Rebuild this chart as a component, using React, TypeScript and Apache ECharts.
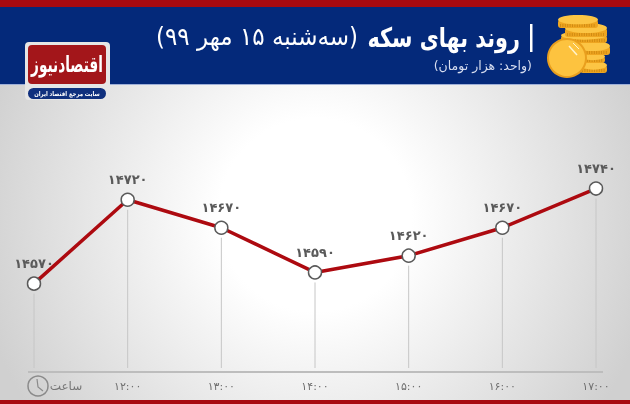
import * as echarts from "echarts";
import { useEffect, useRef } from "react";

const hours = ["", "۱۲:۰۰", "۱۳:۰۰", "۱۴:۰۰", "۱۵:۰۰", "۱۶:۰۰", "۱۷:۰۰"];
const prices = [14570, 14720, 14670, 14590, 14620, 14670, 14740];

const Y_MIN = 14412;
const Y_MAX = 14800;

const BLUE = "#04297a";
const RED = "#a80a10";
const LINE_RED = "#ad0a10";
const GREY = "#5a5a5a";
const FONT = "'DejaVu Sans', 'Noto Sans', sans-serif";
const RLM = "\u200F";

const toPersian = (n: number) =>
  String(n).replace(/\d/g, (d) => "۰۱۲۳۴۵۶۷۸۹"[Number(d)]);

// one coin of the stack: ribbed edge as a darker band under a lighter top
function coin(x: number, y: number, w: number, h: number) {
  const ry = h * 0.36;
  return [
    { type: "rect", shape: { x, y: y + ry, width: w, height: h - ry, r: 3 }, style: { fill: "#eea520" } },
    {
      type: "line",
      shape: { x1: x + 2, y1: y + h - 2.5, x2: x + w - 2, y2: y + h - 2.5 },
      style: { stroke: "#d08a12", lineWidth: 3, lineDash: [1, 1.4] },
    },
    { type: "ellipse", shape: { cx: x + w / 2, cy: y + ry, rx: w / 2, ry }, style: { fill: "#fcc544" } },
  ];
}

function headerGraphics() {
  return [
    {
      type: "rect",
      z: -10,
      shape: { x: 0, y: 84, width: 630, height: 320 },
      style: {
        fill: new echarts.graphic.RadialGradient(315, 215, 345, [
          { offset: 0, color: "#ffffff" },
          { offset: 0.28, color: "#ffffff" },
          { offset: 1, color: "#d0d0d0" },
        ], true),
      },
    },
    { type: "rect", z: -9, shape: { x: 0, y: 0, width: 630, height: 84 }, style: { fill: BLUE } },
    { type: "rect", z: -8, shape: { x: 0, y: 0, width: 630, height: 7 }, style: { fill: RED } },
    { type: "rect", z: -8, shape: { x: 0, y: 84, width: 630, height: 1 }, style: { fill: "#9fb0d8" } },
    { type: "rect", z: -8, shape: { x: 0, y: 400, width: 630, height: 4 }, style: { fill: RED } },

    // title
    { type: "rect", shape: { x: 530, y: 24, width: 2.5, height: 28 }, style: { fill: "#ffffff" } },
    {
      type: "text", x: 520, y: 38, scaleX: 0.77,
      style: { text: "روند بهای سکه", fill: "#fff", font: `bold 27px ${FONT}`, align: "right", verticalAlign: "middle" },
    },
    {
      type: "text", x: 358, y: 37, scaleX: 0.92,
      style: { text: RLM + "(سه‌شنبه ۱۵ مهر ۹۹)" + RLM, fill: "#fff", font: `25px ${FONT}`, align: "right", verticalAlign: "middle" },
    },
    {
      type: "text", x: 532, y: 65,
      style: { text: RLM + "(واحد: هزار تومان)" + RLM, fill: "#d8def0", font: `12.5px ${FONT}`, align: "right", verticalAlign: "middle" },
    },

    // coins
    ...coin(580, 61, 27, 12),
    ...coin(580, 53, 25, 10),
    ...coin(575, 41, 35, 14),
    ...coin(561, 31, 46, 12),
    ...coin(565, 23, 42, 14),
    ...coin(558, 15, 40, 13),
    { type: "circle", shape: { cx: 567, cy: 58, r: 20 }, style: { fill: "#e99f1e" } },
    { type: "circle", shape: { cx: 567, cy: 58, r: 18 }, style: { fill: "#fdc33f" } },
    { type: "line", shape: { x1: 569, y1: 46, x2: 577, y2: 55 }, style: { stroke: "#fff3cc", lineWidth: 1.5 } },
    { type: "line", shape: { x1: 573, y1: 43, x2: 579, y2: 49 }, style: { stroke: "#fff3cc", lineWidth: 1 } },

    // logo
    { type: "rect", shape: { x: 25, y: 42, width: 85, height: 58, r: 4 }, style: { fill: "#e6e6e6" } },
    { type: "rect", shape: { x: 28, y: 45, width: 78, height: 39, r: 4 }, style: { fill: "#a3161a" } },
    {
      type: "text", x: 67, y: 64, scaleX: 0.62,
      style: { text: "اقتصادنیوز", fill: "#fff", font: `bold 22px ${FONT}`, align: "center", verticalAlign: "middle" },
    },
    { type: "rect", shape: { x: 28, y: 88, width: 78, height: 11, r: 5.5 }, style: { fill: "#10307e" } },
    {
      type: "text", x: 67, y: 93.5, scaleX: 0.82,
      style: { text: "سایت مرجع اقتصاد ایران", fill: "#fff", font: `bold 6.5px ${FONT}`, align: "center", verticalAlign: "middle" },
    },

    // baseline, clock and the word for hour
    { type: "line", shape: { x1: 28, y1: 372, x2: 603, y2: 372 }, style: { stroke: "#bdbdbd", lineWidth: 2 } },
    { type: "circle", shape: { cx: 38, cy: 386, r: 10 }, style: { fill: "none", stroke: "#8a8a8a", lineWidth: 1.5 } },
    { type: "polyline", shape: { points: [[37, 379], [38, 387], [43, 391]] }, style: { fill: "none", stroke: "#8a8a8a", lineWidth: 1.2 } },
    {
      type: "text", x: 66, y: 386,
      style: { text: "ساعت", fill: "#777", font: `12px ${FONT}`, align: "center", verticalAlign: "middle" },
    },
  ];
}

export default function App() {
  const ref = useRef<HTMLDivElement>(null);

  useEffect(() => {
    const el = ref.current;
    if (!el) return;
    const chart = echarts.init(el, undefined, { renderer: "svg" });
    chart.setOption({
      animation: false,
      graphic: { elements: headerGraphics() },
      grid: { left: 34, right: 34, top: 155, bottom: 32 },
      xAxis: {
        type: "category",
        data: hours,
        boundaryGap: false,
        axisLine: { show: false },
        axisTick: { show: false },
        axisLabel: { color: "#6f6f6f", fontSize: 11, fontFamily: FONT, margin: 9, interval: 0 },
      },
      yAxis: { type: "value", min: Y_MIN, max: Y_MAX, show: false },
      series: [
        {
          type: "custom",
          z: 1,
          data: prices.map((v, i) => [i, v]),
          renderItem: (_: unknown, api: any) => {
            const top = api.coord([api.value(0), api.value(1)]);
            const base = api.coord([api.value(0), Y_MIN]);
            return {
              type: "line",
              shape: { x1: top[0], y1: top[1] + 10, x2: base[0], y2: base[1] - 4 },
              style: { stroke: "#c6c6c6", lineWidth: 1 },
            };
          },
        },
        {
          type: "line",
          z: 3,
          data: prices,
          symbol: "circle",
          symbolSize: 13,
          showAllSymbol: true,
          lineStyle: { color: LINE_RED, width: 3.5 },
          itemStyle: { color: "#ffffff", borderColor: GREY, borderWidth: 1.5 },
          label: {
            show: true,
            position: "top",
            distance: 6,
            color: GREY,
            fontSize: 13,
            fontWeight: "bold",
            fontFamily: FONT,
            formatter: (p: any) => toPersian(p.value),
          },
        },
      ],
    });
    return () => chart.dispose();
  }, []);

  return <div ref={ref} style={{ position: "fixed", left: 0, top: 0, width: 630, height: 404 }} />;
}
